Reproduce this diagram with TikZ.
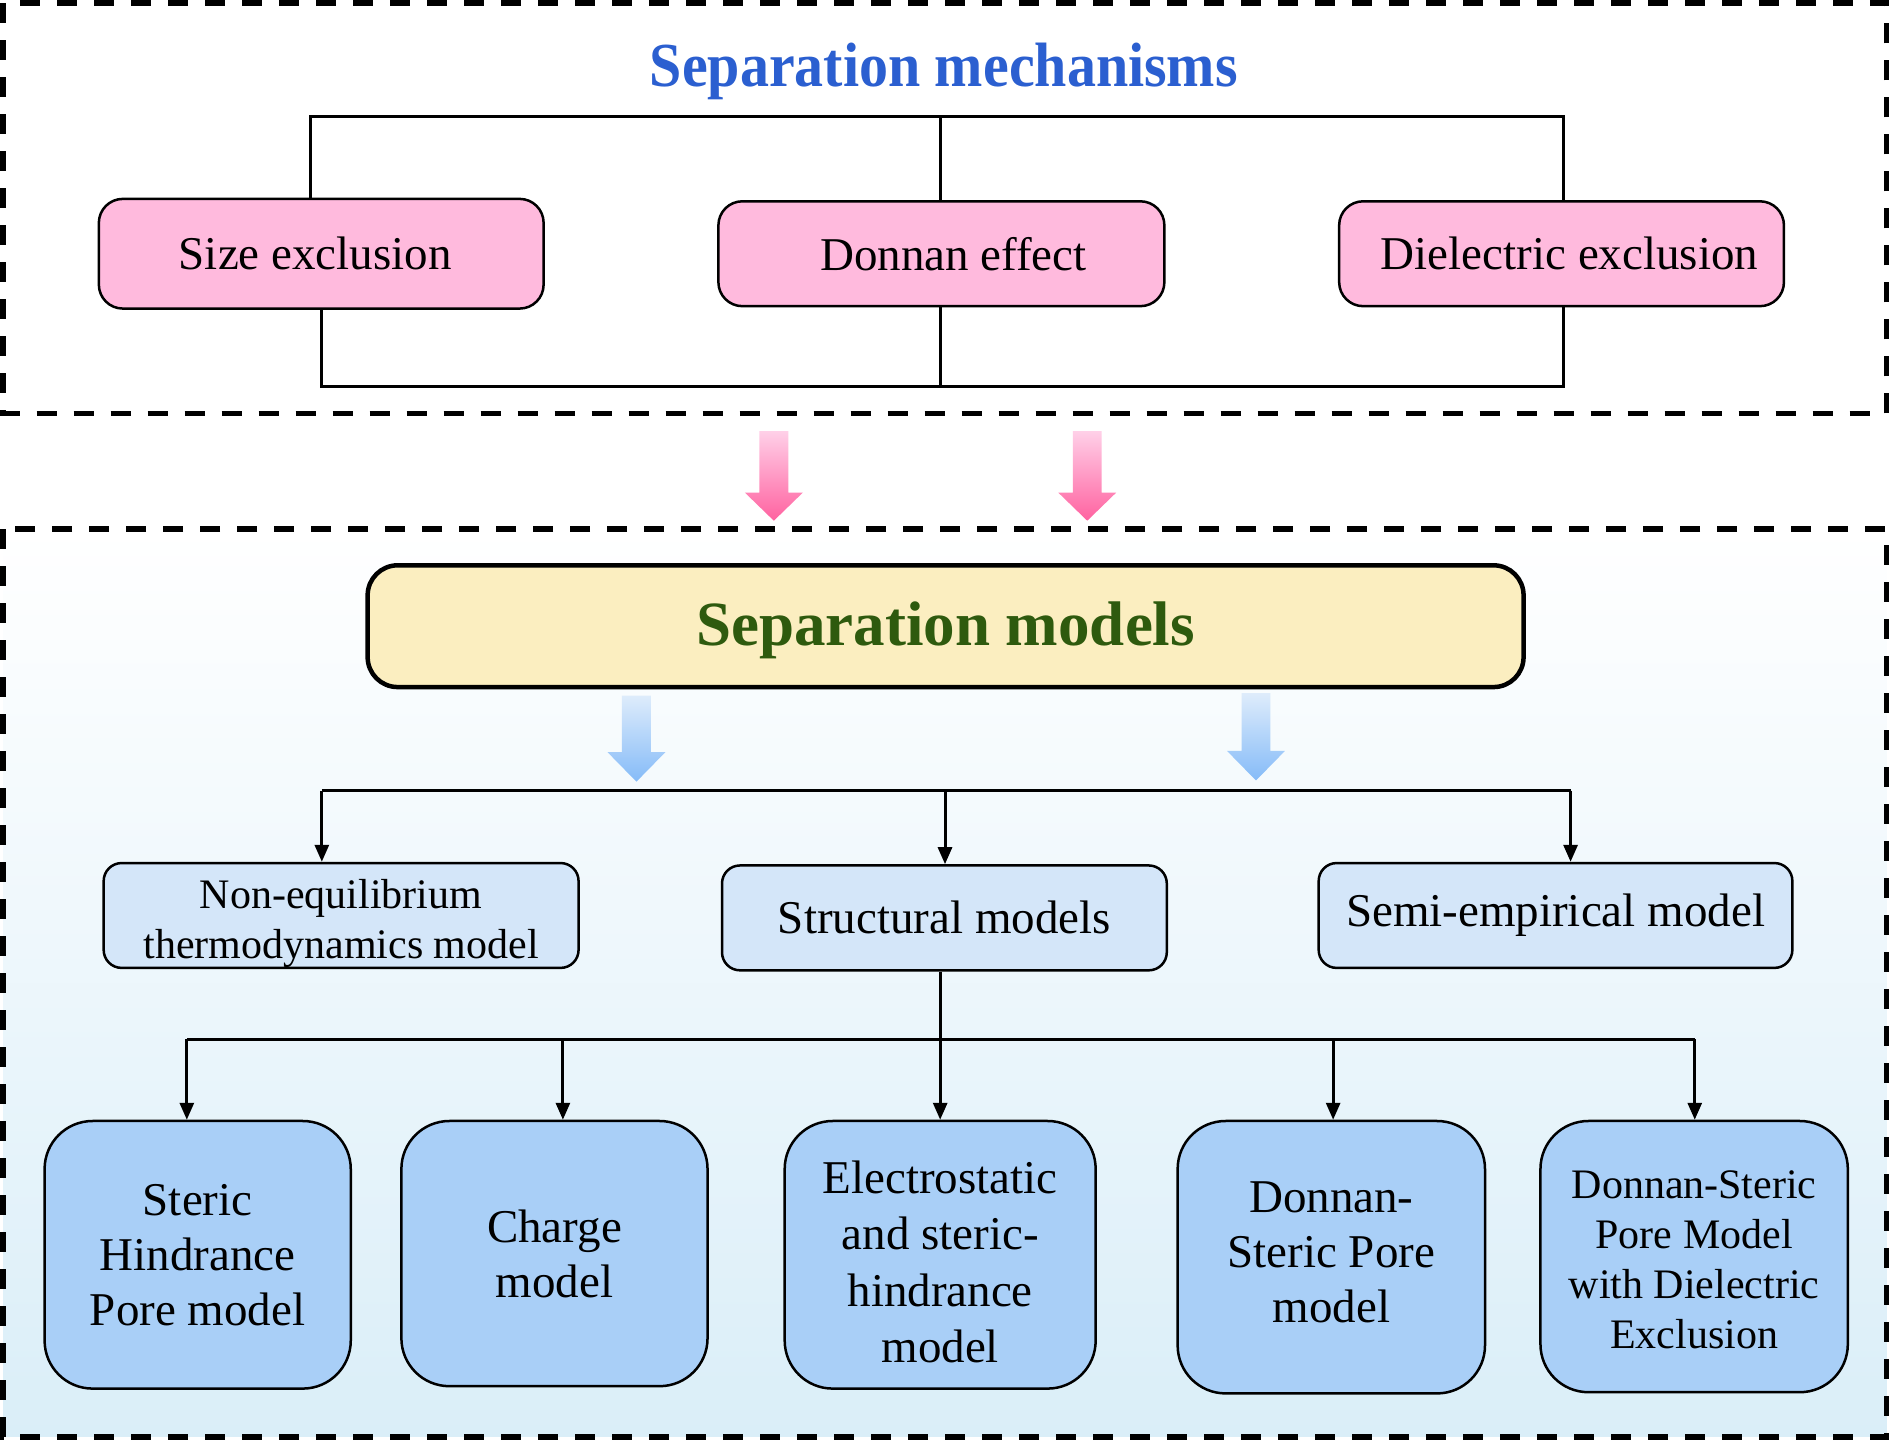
\documentclass[tikz,border=0pt]{standalone}
\usepackage{fontspec}
\setmainfont{Liberation Serif}
\usetikzlibrary{arrows.meta}
\definecolor{pinkbox}{RGB}{255,186,221}
\definecolor{yellowbox}{RGB}{251,238,192}
\definecolor{lightbox}{RGB}{212,230,249}
\definecolor{bluebox}{RGB}{169,207,247}
\definecolor{titleblue}{RGB}{43,95,208}
\definecolor{titlegreen}{RGB}{46,90,14}
\definecolor{bgbottom}{RGB}{218,238,248}
\definecolor{pinktop}{RGB}{255,208,232}
\definecolor{pinkbot}{RGB}{255,98,160}
\definecolor{bluetop}{RGB}{222,236,251}
\definecolor{bluebot}{RGB}{133,187,248}
\newcommand\shiftdown[2]{\raisebox{-#1}[\height][\depth]{#2}}
\tikzset{
  sz/.style 2 args={minimum width=#1*1.2054pt, minimum height=#2*1.2054pt},
  basebox/.style={draw=black, line width=2.5pt, inner sep=0pt, align=center,
    font=\fontsize{47}{55}\selectfont},
  mechbox/.style={basebox, fill=pinkbox, rounded corners=24pt},
  modbox/.style={basebox, fill=lightbox, rounded corners=18pt},
  leafbox/.style={basebox, fill=bluebox, rounded corners=48pt},
  conn/.style={draw=black, line width=3pt},
  arr/.style={conn, -{Triangle[length=17pt,width=14pt]}},
  dashbox/.style={draw=black, line width=5.4pt, dash pattern=on 20pt off 17pt},
}
\begin{document}
\begin{tikzpicture}[x=1.2054pt,y=-1.2054pt]
\useasboundingbox (0,0) rectangle (1568,1194.6);
% background panels
\fill[white] (0,0) rectangle (1568,1194.6);
\shade[top color=white, middle color=bgbottom!40!white, bottom color=bgbottom] (2.5,439) rectangle (1565,1192);
\draw[dashbox] (2.5,2.5) rectangle (1565,343);
\draw[dashbox] (2.5,439) rectangle (1565,1192);

% ---- Separation mechanisms ----
\node[font=\fontsize{58}{66}\selectfont\bfseries, text=titleblue] (mechtitle) at (783,59) {\scalebox{1}[1.08]{Separation mechanisms}};
\node[mechbox, sz={369}{91}] (size) at (266.5,210.5) {\hspace*{-12pt}Size exclusion};
\node[mechbox, sz={370}{87}] (donnan) at (781,210.5) {\hspace*{24pt}Donnan effect};
\node[mechbox, sz={369}{87}] (diel) at (1295.5,210.5) {\hspace*{16pt}Dielectric exclusion};

\coordinate (tl) at (258,97);
\coordinate (tm) at (780,97);
\coordinate (tr) at (1297,97);
\coordinate (bl) at (267,321);
\coordinate (bm) at (780,321);
\coordinate (br) at (1297,321);
\draw[conn] (size.north -| tl) -- (tl) -- (tr) -- (diel.north -| tr);
\draw[conn] (donnan.north -| tm) -- (tm);
\draw[conn] (size.south -| bl) -- (bl) -- (br) -- (diel.south -| br);
\draw[conn] (donnan.south -| bm) -- (bm);

% pink arrows
\shade[top color=pinktop, bottom color=pinkbot]
  (630,357.6) -- (654,357.6) -- (654,408.7) -- (666,408.7) -- (642,432) -- (618,408.7) -- (630,408.7) -- cycle;
\shade[top color=pinktop, bottom color=pinkbot]
  (890,357.6) -- (914,357.6) -- (914,408.7) -- (926,408.7) -- (902,432) -- (878,408.7) -- (890,408.7) -- cycle;

% ---- Separation models ----
\node[basebox, line width=4.5pt, fill=yellowbox, rounded corners=30pt, sz={959}{101},
  font=\fontsize{63}{70}\selectfont\bfseries, text=titlegreen] (models) at (784.5,519.5) {\shiftdown{4pt}{Separation models}};

% blue arrows
\shade[top color=bluetop, bottom color=bluebot]
  (516,577) -- (540,577) -- (540,624) -- (552,624) -- (528,648.5) -- (504,624) -- (516,624) -- cycle;
\shade[top color=bluetop, bottom color=bluebot]
  (1030,575) -- (1054,575) -- (1054,623) -- (1066,623) -- (1042,647.5) -- (1018,623) -- (1030,623) -- cycle;

\node[modbox, sz={394}{87}, font=\fontsize{42}{50}\selectfont] (noneq) at (283,759.5) {\shiftdown{8pt}{\parbox{420pt}{\centering Non-equilibrium\\thermodynamics model}}};
\node[modbox, sz={369}{87}] (struct) at (783.5,761.5) {Structural models};
\node[modbox, sz={393}{87}] (semi) at (1290.5,759.5) {Semi-empirical model};

\coordinate (m1) at (267,656);
\coordinate (m2) at (784,656);
\coordinate (m3) at (1303,656);
\draw[conn] (m1) -- (m3);
\draw[arr] (m1) -- (noneq.north -| m1);
\draw[arr] (m2) -- (struct.north -| m2);
\draw[arr] (m3) -- (semi.north -| m3);

% ---- leaf models ----
\node[leafbox, sz={254}{222}] (shp) at (164,1041) {Steric\\Hindrance\\Pore model};
\node[leafbox, sz={254}{220}] (charge) at (460,1040) {Charge\\model};
\node[leafbox, sz={258}{222}, font=\fontsize{47}{56.5}\selectfont] (esh) at (780,1041) {\shiftdown{7pt}{\parbox{300pt}{\centering Electrostatic\\and steric-\\hindrance\\model}}};
\node[leafbox, sz={255}{226}] (dsp) at (1104.5,1043) {\shiftdown{-5pt}{\parbox{300pt}{\centering Donnan-\\Steric Pore\\model}}};
\node[leafbox, sz={255}{225}, font=\fontsize{42}{50}\selectfont] (dspmde) at (1405.5,1042.5) {\shiftdown{3pt}{\parbox{300pt}{\centering Donnan-Steric\\Pore Model\\with Dielectric\\Exclusion}}};

\coordinate (s0) at (780,805);
\coordinate (n1) at (155,862);
\coordinate (n2) at (467,862);
\coordinate (n3) at (780,862);
\coordinate (n4) at (1106,862);
\coordinate (n5) at (1406,862);
\draw[conn] (struct.south -| s0) -- (n3);
\draw[conn] (n1) -- (n5);
\draw[arr] (n1) -- (shp.north -| n1);
\draw[arr] (n2) -- (charge.north -| n2);
\draw[arr] (n3) -- (esh.north -| n3);
\draw[arr] (n4) -- (dsp.north -| n4);
\draw[arr] (n5) -- (dspmde.north -| n5);
\end{tikzpicture}
\end{document}
